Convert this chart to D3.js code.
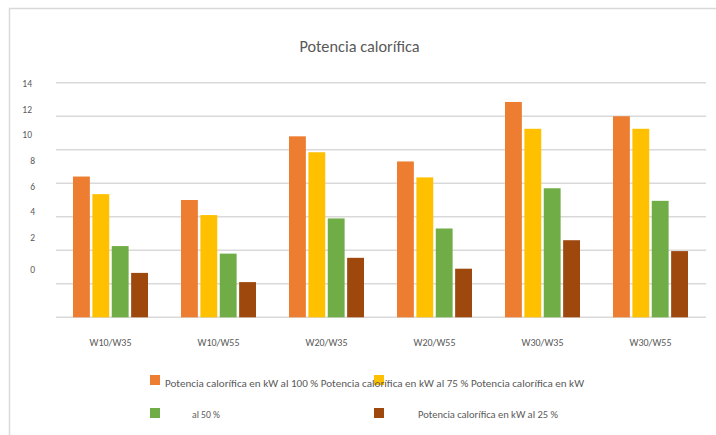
<!DOCTYPE html>
<html>
<head>
<meta charset="utf-8">
<script src="https://cdn.jsdelivr.net/npm/d3@7"></script>
<style>
  html, body { margin: 0; padding: 0; background: #fff; }
  svg { display: block; font-family: Carlito, "Liberation Sans", "Open Sans", sans-serif; }
</style>
</head>
<body>
<svg id="chart" width="716" height="435"></svg>
<script>
const categories = ["W10/W35", "W10/W55", "W20/W35", "W20/W55", "W30/W35", "W30/W55"];
const seriesNames = [
  "Potencia calorífica en kW al 100 %",
  "Potencia calorífica en kW al 75 %",
  "Potencia calorífica en kW al 50 %",
  "Potencia calorífica en kW al 25 %"
];
const s100 = [8.4, 7.0, 10.8, 9.3, 12.85, 12.0];
const s75  = [7.35, 6.1, 9.85, 8.35, 11.25, 11.25];
const s50  = [4.25, 3.8, 5.9, 5.3, 7.7, 6.95];
const s25  = [2.65, 2.1, 3.55, 2.9, 4.6, 3.95];
const yTicks = [0, 2, 4, 6, 8, 10, 12, 14];
const yTickLabels = ["0", "2", "4", "6", "8", "10", "12", "14"];
const colors = ["#ED7D31", "#FFC000", "#70AD47", "#9E480E"];
const title = "Potencia calorífica";

const allSeries = [s100, s75, s50, s25];
const svg = d3.select("#chart");

// chart frame
svg.append("path")
  .attr("d", "M9.5,440 L9.5,8.5 L720,8.5")
  .attr("fill", "none").attr("stroke", "#d9d9d9").attr("stroke-width", 1.5);

const plot = { left: 56, right: 706, top: 82.7, bottom: 317.3 };

const y = d3.scaleLinear().domain([0, 14]).range([plot.bottom, plot.top]);
const x0 = d3.scaleBand().domain(categories).range([plot.left, plot.left + 108 * 6]).padding(0);
const x1 = d3.scaleBand().domain(d3.range(4)).range([17, 92]).paddingInner(0.13);

// gridlines
svg.append("g").selectAll("line").data(yTicks).join("line")
  .attr("x1", plot.left).attr("x2", plot.right)
  .attr("y1", d => y(d)).attr("y2", d => y(d))
  .attr("stroke", "#d9d9d9").attr("stroke-width", 1.5);

// y tick labels (offset as in reference)
const yLabel = d3.scaleLinear().domain([14, 2]).range([84, 237.3]);
svg.append("g").selectAll("text").data(yTicks).join("text")
  .attr("x", d => d >= 10 ? 32 : 35)
  .attr("y", d => d === 0 ? 269.3 : yLabel(d))
  .attr("dy", "0.35em")
  .attr("text-anchor", "end")
  .attr("font-size", 9.5)
  .attr("fill", "#595959")
  .text((d, i) => yTickLabels[i]);

// bars
const groups = svg.append("g").selectAll("g").data(categories).join("g")
  .attr("transform", d => `translate(${x0(d)},0)`);
groups.selectAll("rect")
  .data((c, ci) => allSeries.map((s, si) => ({ si, v: s[ci] })))
  .join("rect")
  .attr("x", d => x1(d.si))
  .attr("width", x1.bandwidth())
  .attr("y", d => y(d.v))
  .attr("height", d => y(0) - y(d.v))
  .attr("fill", d => colors[d.si]);

// x labels
svg.append("g").selectAll("text").data(categories).join("text")
  .attr("x", d => x0(d) + x0.bandwidth() / 2 + 0.5)
  .attr("y", 346)
  .attr("text-anchor", "middle")
  .attr("font-size", 10)
  .attr("fill", "#595959")
  .text(d => d);

// title
svg.append("text")
  .attr("x", 359.5).attr("y", 52)
  .attr("text-anchor", "middle")
  .attr("font-size", 16.3)
  .attr("fill", "#595959")
  .text(title);

// legend (wrapped like the reference)
const leg = svg.append("g");
const legSquares = [
  { x: 150, y: 375 }, { x: 374, y: 375 }, { x: 150, y: 408 }, { x: 374, y: 408 }
];
leg.selectAll("rect").data(legSquares).join("rect")
  .attr("x", d => d.x).attr("y", d => d.y)
  .attr("width", 10).attr("height", 10)
  .attr("fill", (d, i) => colors[i]);

const row1 = seriesNames[0] + " " + seriesNames[1] + " " + seriesNames[2].replace(" al 50 %", "");
leg.append("text")
  .attr("x", 165).attr("y", 387)
  .attr("font-size", 10).attr("fill", "#595959")
  .attr("textLength", 419).attr("lengthAdjust", "spacingAndGlyphs")
  .text(row1);
leg.append("text")
  .attr("x", 192).attr("y", 418)
  .attr("font-size", 9.5).attr("fill", "#595959")
  .attr("textLength", 28).attr("lengthAdjust", "spacingAndGlyphs")
  .text("al 50 %");
leg.append("text")
  .attr("x", 418).attr("y", 418)
  .attr("font-size", 9.5).attr("fill", "#595959")
  .attr("textLength", 140).attr("lengthAdjust", "spacingAndGlyphs")
  .text(seriesNames[3]);
</script>
</body>
</html>
